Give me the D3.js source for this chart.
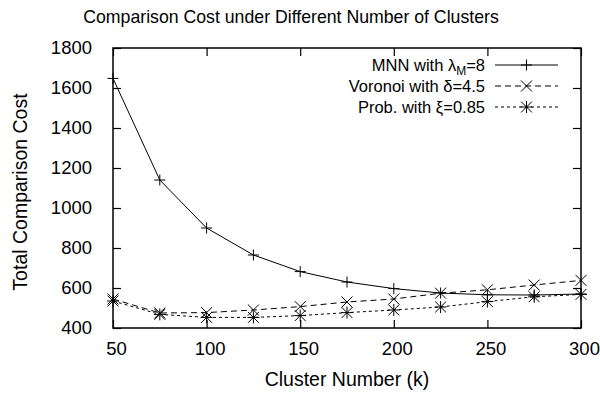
<!DOCTYPE html>
<html>
<head>
<meta charset="utf-8">
<script src="https://cdn.jsdelivr.net/npm/d3@7"></script>
<style>
  body { margin: 0; background: #fff; }
  text { font-family: "Liberation Sans", Arial, Helvetica, sans-serif; fill: #000; }
</style>
</head>
<body>
<div id="chart"></div>
<script>
var clusters = [50, 75, 100, 125, 150, 175, 200, 225, 250, 275, 300];
var mnnCost = [1648, 1140, 900, 765, 682, 630, 597, 575, 566, 565, 570];
var voronoiCost = [545, 475, 477, 490, 507, 530, 545, 574, 591, 615, 638];
var probCost = [535, 468, 453, 453, 462, 477, 490, 505, 532, 556, 568];
var xTicks = [50, 100, 150, 200, 250, 300];
var yTicks = [400, 600, 800, 1000, 1200, 1400, 1600, 1800];

var W = 600, H = 394;
var margin = {left: 113, top: 48, right: 19, bottom: 66};
var pw = W - margin.left - margin.right,
    ph = H - margin.top - margin.bottom;

var svg = d3.select("#chart").append("svg")
    .attr("width", W)
    .attr("height", H);

var x = d3.scaleLinear().domain([50, 300]).range([0, pw]);
var y = d3.scaleLinear().domain([400, 1800]).range([ph, 0]);

var g = svg.append("g")
    .attr("transform", "translate(" + margin.left + "," + margin.top + ")");

// gnuplot style: ticks pointing inward, mirrored on top/right
var tickLen = 8;
g.append("g")
    .attr("transform", "translate(0," + ph + ")")
    .call(d3.axisBottom(x).tickValues(xTicks).tickFormat(d3.format("d"))
        .tickSizeInner(-tickLen).tickSizeOuter(0).tickPadding(14))
    .call(ax => ax.selectAll("text").attr("dx", 3));
g.append("g")
    .call(d3.axisTop(x).tickValues(xTicks).tickSizeInner(-tickLen).tickSizeOuter(0).tickFormat(""));
g.append("g")
    .call(d3.axisLeft(y).tickValues(yTicks).tickFormat(d3.format("d"))
        .tickSizeInner(-tickLen).tickSizeOuter(0).tickPadding(21));
g.append("g")
    .attr("transform", "translate(" + pw + ",0)")
    .call(d3.axisRight(y).tickValues(yTicks).tickSizeInner(-tickLen).tickSizeOuter(0).tickFormat(""));

g.selectAll(".domain").remove();
g.selectAll(".tick line").attr("stroke", "#000").attr("stroke-width", 1.2);
g.selectAll(".tick text").attr("font-size", 18.5).attr("font-family", null);

g.append("rect")
    .attr("width", pw).attr("height", ph)
    .attr("fill", "none").attr("stroke", "#000").attr("stroke-width", 1.5);

// markers
function plusPath(s) { return "M" + (-s) + ",0H" + s + "M0," + (-s) + "V" + s; }
function crossPath(s) { return "M" + (-s) + "," + (-s) + "L" + s + "," + s + "M" + (-s) + "," + s + "L" + s + "," + (-s); }
function starPath(s) { return plusPath(s) + crossPath(s * 0.9); }

var series = [
    {name: "mnn", values: mnnCost, dash: null, marker: plusPath(5.5)},
    {name: "voronoi", values: voronoiCost, dash: "6,4", marker: crossPath(5.5)},
    {name: "prob", values: probCost, dash: "3,3", marker: starPath(6)}
];

var line = d3.line()
    .x((d, i) => x(clusters[i]))
    .y(d => y(d));

series.forEach(function(s) {
    g.append("path")
        .datum(s.values)
        .attr("d", line)
        .attr("fill", "none")
        .attr("stroke", "#000")
        .attr("stroke-width", 1)
        .attr("stroke-dasharray", s.dash);
    g.selectAll(".pt-" + s.name)
        .data(s.values)
        .enter()
        .append("path")
        .attr("class", "pt-" + s.name)
        .attr("transform", (d, i) => "translate(" + x(clusters[i]) + "," + y(d) + ")")
        .attr("d", s.marker)
        .attr("fill", "none")
        .attr("stroke", "#000")
        .attr("stroke-width", 1);
});

// legend
var legend = svg.append("g");
var legendRows = [
    {label: ["MNN with ", "λ", "M", "=8"]},
    {label: ["Voronoi with δ=4.5"]},
    {label: ["Prob. with ξ=0.85"]}
];
legendRows.forEach(function(row, i) {
    var ly = 65 + i * 21;
    var t = legend.append("text")
        .attr("x", 485).attr("y", ly)
        .attr("dy", "0.35em")
        .attr("text-anchor", "end")
        .attr("font-size", 16.5);
    if (row.label.length > 1) {
        t.append("tspan").text(row.label[0]);
        t.append("tspan").text(row.label[1]);
        t.append("tspan").attr("font-size", 12).attr("dy", 4).text(row.label[2]);
        t.append("tspan").attr("dy", -4).text(row.label[3]);
    } else {
        t.text(row.label[0]);
    }
    var s = series[i];
    legend.append("line")
        .attr("x1", 495).attr("x2", 558)
        .attr("y1", ly).attr("y2", ly)
        .attr("stroke", "#000").attr("stroke-width", 1)
        .attr("stroke-dasharray", s.dash);
    legend.append("path")
        .attr("transform", "translate(" + 526.5 + "," + ly + ")")
        .attr("d", s.marker)
        .attr("fill", "none").attr("stroke", "#000").attr("stroke-width", 1);
});

// titles
svg.append("text")
    .attr("x", 291).attr("y", 23)
    .attr("text-anchor", "middle")
    .attr("font-size", 17.7)
    .text("Comparison Cost under Different Number of Clusters");

svg.append("text")
    .attr("x", 347).attr("y", 386)
    .attr("text-anchor", "middle")
    .attr("font-size", 19.5)
    .text("Cluster Number (k)");

svg.append("text")
    .attr("transform", "translate(27,192) rotate(-90)")
    .attr("text-anchor", "middle")
    .attr("font-size", 19.5)
    .text("Total Comparison Cost");
</script>
</body>
</html>
